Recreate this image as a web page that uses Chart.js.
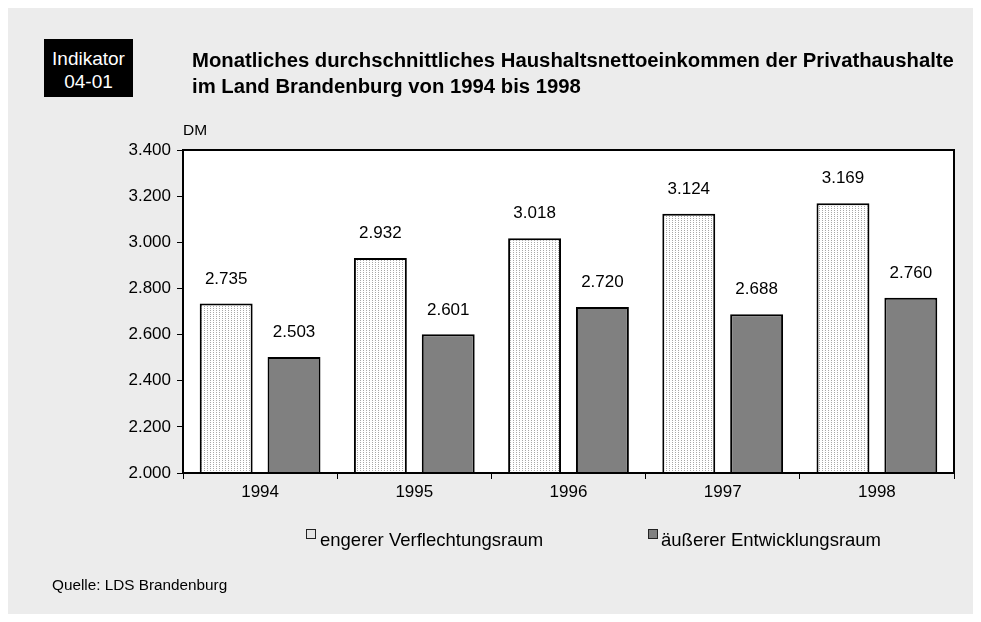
<!DOCTYPE html>
<html>
<head>
<meta charset="utf-8">
<script src="https://cdn.jsdelivr.net/npm/chart.js@4.4.0/dist/chart.umd.min.js"></script>
<style>
    body { margin: 0; background: #fff; font-family: "Liberation Sans", Arial, sans-serif; }
    .panel { position: absolute; left: 8px; top: 8px; width: 965px; height: 606px; background: #ececec; }
    .wrap { position: absolute; left: 0; top: 0; width: 981px; height: 622px; }
    .badge { position: absolute; left: 44px; top: 39px; width: 89px; height: 58px; background: #000; color: #fff;
             font-size: 19px; text-align: center; line-height: 23px; padding-top: 8px; box-sizing: border-box; }
    .title { position: absolute; left: 192px; top: 47px; font-size: 20.3px; font-weight: bold; line-height: 26px; color: #000; white-space: nowrap; }
    .unit { position: absolute; left: 183px; top: 121px; font-size: 15.5px; line-height: 17px; }
    .legend { position: absolute; top: 529px; font-size: 18.5px; line-height: 21px; white-space: nowrap; }
    .lbox { position: absolute; top: 529px; width: 8px; height: 8px; border: 1.5px solid #222; }
    .source { position: absolute; left: 52px; top: 576px; font-size: 15.3px; line-height: 17px; }
</style>
</head>
<body>
<div class="panel"></div>
<div class="wrap"><canvas id="myChart" width="981" height="622"></canvas></div>
<div class="badge">Indikator<br>04-01</div>
<div class="title">Monatliches durchschnittliches Haushaltsnettoeinkommen der Privathaushalte<br>im Land Brandenburg von 1994 bis 1998</div>
<div class="unit">DM</div>
<div class="lbox" style="left:306px;background:#e4e4e4"></div>
<div class="legend" style="left:320px">engerer Verflechtungsraum</div>
<div class="lbox" style="left:648px;background:#808080"></div>
<div class="legend" style="left:661px">äußerer Entwicklungsraum</div>
<div class="source">Quelle: LDS Brandenburg</div>
<script>
const years = ['1994', '1995', '1996', '1997', '1998'];
const engererRaum = [2735, 2932, 3018, 3124, 3169];
const aeussererRaum = [2503, 2601, 2720, 2688, 2760];
const seriesNames = ['engerer Verflechtungsraum', 'äußerer Entwicklungsraum'];

const fmt = v => v.toLocaleString('de-DE');
const font17 = { size: 17, family: '"Liberation Sans", Arial' };

// fine vertical stipple for the light bars
function makeStipple() {
    const c = document.createElement('canvas');
    c.width = 3; c.height = 2;
    const g = c.getContext('2d');
    g.fillStyle = '#ffffff';
    g.fillRect(0, 0, 3, 2);
    g.fillStyle = '#a8a8a8';
    g.fillRect(0, 0, 1, 1);
    return g.createPattern(c, 'repeat');
}

const frame = {
    id: 'frame',
    beforeDatasetsDraw(chart) {
        const { ctx, chartArea: a } = chart;
        ctx.save();
        ctx.fillStyle = '#fff';
        ctx.fillRect(a.left, a.top, a.right - a.left, a.bottom - a.top);
        ctx.restore();
    },
    afterDatasetsDraw(chart) {
        const { ctx, chartArea: a } = chart;
        ctx.save();
        ctx.strokeStyle = '#000';
        ctx.lineWidth = 2;
        ctx.strokeRect(a.left, a.top, a.right - a.left, a.bottom - a.top);
        ctx.font = '17px "Liberation Sans", Arial, sans-serif';
        ctx.fillStyle = '#000';
        ctx.textAlign = 'center';
        ctx.textBaseline = 'bottom';
        chart.data.datasets.forEach((ds, i) => {
            chart.getDatasetMeta(i).data.forEach((bar, j) => {
                ctx.fillText(fmt(ds.data[j]), bar.x, bar.y - 16);
            });
        });
        ctx.restore();
    }
};

const ctx = document.getElementById('myChart').getContext('2d');
new Chart(ctx, {
    type: 'bar',
    data: {
        labels: years,
        datasets: [
            { label: seriesNames[0], data: engererRaum, backgroundColor: makeStipple(), borderColor: '#000', borderWidth: 2 },
            { label: seriesNames[1], data: aeussererRaum, backgroundColor: '#808080', borderColor: '#000', borderWidth: 2 }
        ]
    },
    options: {
        responsive: false,
        animation: false,
        datasets: { bar: { categoryPercentage: 0.88, barPercentage: 0.78 } },
        layout: { padding: { left: 113, top: 150, right: 27, bottom: 119 } },
        plugins: { legend: { display: false }, tooltip: { enabled: false } },
        scales: {
            x: {
                afterFit: s => { s.height = 30; },
                grid: { offset: true, drawOnChartArea: false, drawTicks: true, tickLength: 6, color: '#000', lineWidth: 1 },
                border: { display: false },
                ticks: { color: '#000', font: font17, padding: 3 }
            },
            y: {
                min: 2000, max: 3400,
                afterFit: s => { s.width = 70; },
                grid: { drawOnChartArea: false, drawTicks: true, tickLength: 6, color: '#000', lineWidth: 1 },
                border: { display: false },
                ticks: { stepSize: 200, color: '#000', font: font17, padding: 6, callback: v => fmt(v) }
            }
        }
    },
    plugins: [frame]
});
</script>
</body>
</html>
